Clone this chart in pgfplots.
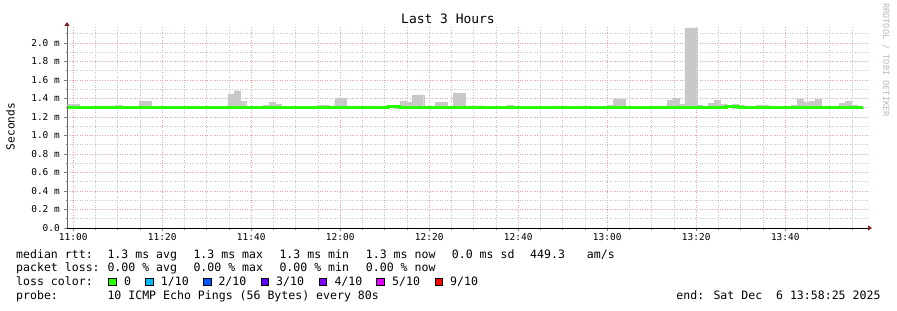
\documentclass[border=0pt]{standalone}
\usepackage{fontspec}
\setmainfont{DejaVu Sans Mono}
\setmonofont{DejaVu Sans Mono}
\usepackage{pgfplots}
\pgfplotsset{compat=1.18}
\usepackage{pgfplotstable}
\usetikzlibrary{arrows.meta}

\definecolor{smoke}{RGB}{200,200,200}
\definecolor{smokedark}{RGB}{165,165,165}
\definecolor{medc}{RGB}{38,255,0}
\definecolor{majgrid}{RGB}{240,160,160}
\definecolor{mingrid}{RGB}{195,195,195}
\definecolor{arrowred}{RGB}{128,30,30}
\definecolor{lossA}{HTML}{26FF00}
\definecolor{lossB}{HTML}{00B8FF}
\definecolor{lossC}{HTML}{0059FF}
\definecolor{lossD}{HTML}{5E00FF}
\definecolor{lossE}{HTML}{7E00FF}
\definecolor{lossF}{HTML}{DD00FF}
\definecolor{lossG}{HTML}{FF0000}

% i = 80 s step index (step 0 starts 10:58:46); values in ms
\pgfplotstableread{
i max dark med
0 1.340 1.330 1.298
1 1.335 1.320 1.298
2 1.300 1.300 1.298
3 1.300 1.300 1.298
4 1.300 1.300 1.298
5 1.320 1.300 1.298
6 1.320 1.300 1.298
7 1.320 1.300 1.298
8 1.330 1.310 1.298
9 1.320 1.300 1.298
10 1.300 1.300 1.298
11 1.300 1.300 1.298
12 1.375 1.310 1.298
13 1.375 1.300 1.298
14 1.320 1.300 1.298
15 1.300 1.300 1.298
16 1.300 1.300 1.298
17 1.300 1.300 1.298
18 1.320 1.300 1.298
19 1.300 1.300 1.298
20 1.320 1.300 1.298
21 1.320 1.300 1.298
22 1.300 1.300 1.298
23 1.300 1.300 1.298
24 1.300 1.300 1.298
25 1.300 1.300 1.298
26 1.310 1.310 1.308
27 1.450 1.310 1.298
28 1.485 1.320 1.298
29 1.370 1.300 1.298
30 1.300 1.300 1.298
31 1.300 1.300 1.298
32 1.300 1.300 1.298
33 1.330 1.300 1.298
34 1.360 1.320 1.298
35 1.340 1.300 1.298
36 1.300 1.300 1.298
37 1.300 1.300 1.298
38 1.300 1.300 1.298
39 1.300 1.300 1.298
40 1.300 1.300 1.298
41 1.300 1.300 1.298
42 1.330 1.300 1.298
43 1.330 1.300 1.298
44 1.300 1.300 1.298
45 1.400 1.320 1.298
46 1.400 1.320 1.298
47 1.320 1.300 1.298
48 1.320 1.300 1.298
49 1.320 1.300 1.298
50 1.320 1.300 1.298
51 1.320 1.300 1.298
52 1.320 1.300 1.298
53 1.300 1.300 1.298
54 1.310 1.310 1.310
55 1.310 1.310 1.310
56 1.375 1.300 1.298
57 1.360 1.300 1.298
58 1.440 1.310 1.298
59 1.440 1.300 1.298
60 1.320 1.300 1.298
61 1.320 1.300 1.298
62 1.360 1.300 1.298
63 1.360 1.300 1.298
64 1.300 1.300 1.298
65 1.460 1.310 1.298
66 1.460 1.310 1.298
67 1.300 1.300 1.298
68 1.320 1.320 1.298
69 1.320 1.320 1.298
70 1.300 1.300 1.298
71 1.300 1.300 1.298
72 1.300 1.300 1.298
73 1.300 1.300 1.298
74 1.330 1.300 1.298
75 1.300 1.300 1.298
76 1.300 1.300 1.298
77 1.300 1.300 1.298
78 1.300 1.300 1.298
79 1.300 1.300 1.298
80 1.300 1.300 1.298
81 1.320 1.300 1.298
82 1.320 1.300 1.298
83 1.320 1.300 1.298
84 1.300 1.300 1.298
85 1.300 1.300 1.298
86 1.320 1.300 1.298
87 1.320 1.300 1.298
88 1.300 1.300 1.298
89 1.300 1.300 1.298
90 1.300 1.300 1.298
91 1.300 1.300 1.298
92 1.395 1.330 1.298
93 1.395 1.330 1.298
94 1.300 1.300 1.298
95 1.300 1.300 1.298
96 1.300 1.300 1.298
97 1.300 1.300 1.298
98 1.320 1.300 1.298
99 1.320 1.300 1.298
100 1.320 1.300 1.298
101 1.380 1.300 1.298
102 1.405 1.300 1.298
103 1.340 1.300 1.298
104 2.165 1.330 1.298
105 2.165 1.330 1.298
106 1.330 1.300 1.298
107 1.320 1.300 1.298
108 1.350 1.300 1.298
109 1.385 1.300 1.298
110 1.340 1.300 1.298
111 1.330 1.310 1.310
112 1.335 1.310 1.310
113 1.330 1.300 1.298
114 1.320 1.300 1.298
115 1.320 1.300 1.298
116 1.330 1.300 1.298
117 1.330 1.300 1.298
118 1.320 1.300 1.298
119 1.300 1.300 1.298
120 1.300 1.300 1.298
121 1.320 1.300 1.298
122 1.330 1.300 1.298
123 1.395 1.310 1.298
124 1.365 1.300 1.298
125 1.370 1.300 1.298
126 1.395 1.320 1.298
127 1.320 1.300 1.298
128 1.320 1.300 1.298
129 1.320 1.300 1.298
130 1.350 1.300 1.298
131 1.370 1.300 1.298
132 1.330 1.300 1.298
133 1.310 1.300 1.298
134 1.310 1.300 1.298
}\rtt

\newcommand\lgfont{\fontsize{11.6}{13}\selectfont}

\begin{document}
\begin{tikzpicture}
\begin{axis}[
  at={(67bp,82bp)}, anchor=south west, scale only axis,
  width=801bp, height=202bp,
  xmin=-1.4, xmax=178.6, ymin=0, ymax=2.184,
  axis lines=left,
  x axis line style={black, line width=0.8bp, -{Triangle[length=4bp,width=5bp,color=arrowred]}, shorten >=-4bp},
  y axis line style={gray!80!black, line width=0.8bp, -{Triangle[length=4bp,width=5bp,color=arrowred]}, shorten >=-4bp},
  xtick={0,20,40,60,80,100,120,140,160},
  xticklabels={11:00,11:20,11:40,12:00,12:20,12:40,13:00,13:20,13:40},
  minor xtick={5,10,15,25,30,35,45,50,55,65,70,75,85,90,95,105,110,115,125,130,135,145,150,155,165,170,175},
  ytick={0,0.2,0.4,0.6,0.8,1.0,1.2,1.4,1.6,1.8,2.0},
  yticklabels={0.0,0.2 m,0.4 m,0.6 m,0.8 m,1.0 m,1.2 m,1.4 m,1.6 m,1.8 m,2.0 m},
  minor ytick={0.1,0.3,0.5,0.7,0.9,1.1,1.3,1.5,1.7,1.9,2.1},
  tick align=outside, major tick length=3bp, minor tick length=1.5bp,
  tick style={line width=0.6bp},
  xticklabel style={font=\fontsize{9.5}{10}\selectfont, inner sep=0pt, yshift=-2.5bp},
  yticklabel style={font=\fontsize{9.5}{10}\selectfont, inner sep=0pt, anchor=east, xshift=-4bp},
  grid=both,
  major grid style={majgrid, line width=0.7bp, dash pattern=on 1bp off 1.5bp},
  minor grid style={mingrid, line width=0.7bp, dash pattern=on 1bp off 1.5bp},
]
\addplot[ybar interval, stack plots=y, draw=none, fill=none, forget plot] table[x expr=\thisrow{i}*4/3-1.24, y=med]{\rtt};
\addplot[ybar interval, stack plots=y, draw=smokedark, line width=0.2bp, fill=smokedark, forget plot] table[x expr=\thisrow{i}*4/3-1.24, y expr=\thisrow{dark}-\thisrow{med}]{\rtt};
\addplot[ybar interval, stack plots=y, draw=smoke, line width=0.2bp, fill=smoke, forget plot] table[x expr=\thisrow{i}*4/3-1.24, y expr=\thisrow{max}-\thisrow{dark}]{\rtt};
\addplot[medc, line width=3bp, const plot, stack plots=false] table[x expr=\thisrow{i}*4/3-1.24, y=med]{\rtt};
\end{axis}

\begin{scope}[x=1bp,y=1bp]
\path[use as bounding box] (0,0) rectangle (897,310);
\node[font=\fontsize{13}{14}\selectfont, anchor=base, inner sep=0] at (448,286.3) {Last 3 Hours};
\node[font=\fontsize{11.2}{12}\selectfont, rotate=90, anchor=base, inner sep=0] at (14.7,183.5) {Seconds};
\node[font=\fontsize{8.6}{9}\selectfont, rotate=-90, text=gray!55, inner sep=0] at (886,250) {RRDTOOL / TOBI OETIKER};

% legend lines
\begin{scope}[every node/.style={font=\lgfont, anchor=base west, inner sep=0}]
\node at (16,52) {median rtt:};
\node at (107.3,52) {1.3 ms avg};
\node at (193.3,52) {1.3 ms max};
\node at (279.3,52) {1.3 ms min};
\node at (365.7,52) {1.3 ms now};
\node at (451.7,52) {0.0 ms sd};
\node at (530,52) {449.3};
\node at (586.7,52) {am/s};

\node at (16,38.3) {packet loss:};
\node at (107.3,38.3) {0.00 \% avg};
\node at (193.3,38.3) {0.00 \% max};
\node at (279.3,38.3) {0.00 \% min};
\node at (365.7,38.3) {0.00 \% now};

\node at (16,24.3) {loss color:};
\node at (124,24.3) {0};
\node at (160.7,24.3) {1/10};
\node at (218.3,24.3) {2/10};
\node at (276,24.3) {3/10};
\node at (334.3,24.3) {4/10};
\node at (392,24.3) {5/10};
\node at (450,24.3) {9/10};

\node at (16,10.3) {probe:};
\node at (107.3,10.3) {10 ICMP Echo Pings (56 Bytes) every 80s};
\node[anchor=base east] at (880.7,10.3) {end: Sat Dec\ \ 6 13:58:25 2025};
\end{scope}
\foreach \xx/\cc in {108.3/lossA,145.7/lossB,203.3/lossC,261/lossD,319/lossE,376.7/lossF,435/lossG}
  \draw[black, line width=0.6bp, fill=\cc] (\xx,24.5) rectangle ++(7.7,7.7);
\end{scope}
\end{tikzpicture}
\end{document}
